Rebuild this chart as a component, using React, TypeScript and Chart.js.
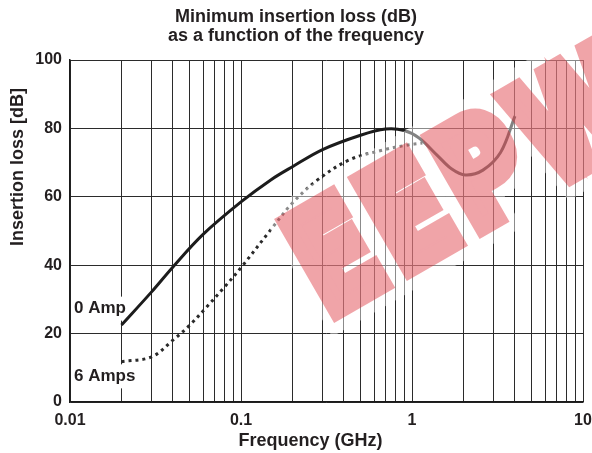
import { useEffect, useRef } from "react";
import { Chart, registerables } from "chart.js";

Chart.register(...registerables);

// ---- data ----
const seriesNames = ["0 Amp", "6 Amps"];
const freq0Amp = [0.02, 0.03, 0.04, 0.06, 0.1, 0.15, 0.2, 0.3, 0.5, 0.7, 0.9, 1.1, 1.4, 1.7, 2.05, 2.6, 3.3, 4.0];
const loss0Amp = [22.5, 32.2, 39.5, 49, 58.5, 65, 68.8, 73.8, 78, 79.8, 79.4, 77.2, 72.2, 68.2, 66.4, 67.8, 73, 83.6];
const freq6Amps = [0.02, 0.03, 0.04, 0.05, 0.063, 0.08, 0.1, 0.15, 0.2, 0.28, 0.43, 0.68, 0.93, 1.15];
const loss6Amps = [11.8, 13.2, 18.1, 22.4, 27.8, 33.6, 39.3, 50.5, 58.2, 64.9, 70.8, 73.7, 75.1, 75.7];
const xDecades = [0.01, 0.1, 1];
const xMultipliers = [1, 2, 3, 4, 5, 6, 7, 8, 9];
const xTickLabels = ["0.01", "0.1", "1", "10"];
const xTickValues = [0.01, 0.1, 1, 10];
const labelValues = [27.3, 7.5]; // y values where the series labels sit
const titleLines = ["Minimum insertion loss (dB)", "as a function of the frequency"];
const xTitle = "Frequency (GHz)";
const yTitle = "Insertion loss [dB]";
const watermarkLetters = ["E", "E", "P", "W"];

const FONT = "'Liberation Sans', Arial, Helvetica, sans-serif";
const INK = "#231f20";

function drawWatermark(ctx: CanvasRenderingContext2D, w: number, h: number) {
  const make = (color: string, stroke: number) => {
    const off = document.createElement("canvas");
    off.width = w;
    off.height = h;
    const o = off.getContext("2d")!;
    o.translate(335, 312);
    o.rotate(-Math.PI / 6);
    o.font = `bold 140px 'DejaVu Sans', sans-serif`;
    o.textBaseline = "alphabetic";
    o.textAlign = "left";
    o.lineJoin = "miter";
    o.fillStyle = color;
    o.strokeStyle = color;
    o.lineWidth = stroke;
    const advances = [0, 84, 168, 258];
    watermarkLetters.forEach((ch, i) => {
      o.save();
      o.translate(advances[i], 0);
      o.scale(0.78, 1);
      o.fillText(ch, -12, 0);
      o.strokeText(ch, -12, 0);
      o.restore();
    });
    return off;
  };
  const halo = make("#ffffff", 40);
  const red = make("rgb(220,40,50)", 18);
  ctx.save();
  ctx.globalAlpha = 0.45;
  ctx.drawImage(halo, 0, 0);
  ctx.globalAlpha = 0.42;
  ctx.drawImage(red, 0, 0);
  ctx.restore();
}

export default function App() {
  const ref = useRef<HTMLCanvasElement | null>(null);

  useEffect(() => {
    if (!ref.current) return;
    const gridValues: number[] = [];
    xDecades.forEach((d) => xMultipliers.forEach((m) => gridValues.push(+(d * m).toPrecision(3))));
    gridValues.push(10);

    const labelsPlugin = {
      id: "seriesLabels",
      beforeDatasetsDraw(chart: any) {
        const { ctx, chartArea, scales } = chart;
        ctx.save();
        ctx.font = `bold 17px ${FONT}`;
        ctx.textBaseline = "middle";
        ctx.textAlign = "left";
        seriesNames.forEach((name, i) => {
          const y = scales.y.getPixelForValue(labelValues[i]);
          const x = chartArea.left + 4;
          const w = ctx.measureText(name).width;
          ctx.fillStyle = "#ffffff";
          ctx.fillRect(x - 2, y - 12, w + 4, 24);
          ctx.fillStyle = INK;
          ctx.fillText(name, x, y);
        });
        ctx.restore();
      },
      afterDraw(chart: any) {
        const { ctx, chartArea } = chart;
        ctx.save();
        ctx.fillStyle = INK;
        ctx.font = `bold 18px ${FONT}`;
        ctx.textAlign = "center";
        ctx.textBaseline = "middle";
        ctx.fillText(xTitle, (chartArea.left + chartArea.right) / 2 - 16, 441);
        ctx.translate(18, 167);
        ctx.rotate(-Math.PI / 2);
        ctx.fillText(yTitle, 0, 0);
        ctx.restore();
        drawWatermark(ctx, chart.width, chart.height);
      },
    };

    const chart = new Chart(ref.current, {
      type: "line",
      data: {
        datasets: [
          {
            label: seriesNames[1],
            data: freq6Amps.map((f, i) => ({ x: f, y: loss6Amps[i] })),
            borderColor: "#2a2a2a",
            borderWidth: 3,
            borderDash: [3, 4],
            pointRadius: 0,
            tension: 0.35,
            fill: false,
          },
          {
            label: seriesNames[0],
            data: freq0Amp.map((f, i) => ({ x: f, y: loss0Amp[i] })),
            borderColor: "#1c1c1c",
            borderWidth: 3,
            pointRadius: 0,
            tension: 0.35,
            fill: false,
          },
        ],
      },
      options: {
        animation: false,
        responsive: true,
        maintainAspectRatio: false,
        layout: { padding: 0 },
        plugins: {
          legend: { display: false },
          tooltip: { enabled: false },
          title: {
            display: true,
            text: titleLines,
            color: INK,
            font: { family: FONT, size: 18, weight: "bold", lineHeight: 1.05 },
            padding: { top: 7.5, bottom: 14.7 },
          },
        },
        scales: {
          x: {
            type: "logarithmic",
            min: 0.01,
            max: 10,
            afterFit: (scale: any) => {
              scale.height = 51;
              scale.paddingRight = 9;
              scale.paddingLeft = 0;
            },
            afterBuildTicks: (scale: any) => {
              scale.ticks = gridValues.map((value) => ({ value }));
            },
            grid: { color: "#2b2b2b", lineWidth: 1, drawTicks: false },
            border: { display: true, color: "#1a1a1a", width: 1.5 },
            ticks: {
              autoSkip: false,
              maxRotation: 0,
              padding: 9,
              color: INK,
              font: { family: FONT, size: 16, weight: "bold" },
              callback: (value: any) => {
                const idx = xTickValues.findIndex((v) => Math.abs(v - Number(value)) < 1e-9);
                return idx >= 0 ? xTickLabels[idx] : "";
              },
            },
          },
          y: {
            type: "linear",
            min: 0,
            max: 100,
            afterFit: (scale: any) => {
              scale.width = 70;
            },
            grid: { color: "#2b2b2b", lineWidth: 1, drawTicks: false },
            border: { display: true, color: "#1a1a1a", width: 1.5 },
            ticks: {
              stepSize: 20,
              padding: 8,
              color: INK,
              font: { family: FONT, size: 16, weight: "bold" },
            },
          },
        },
      },
      plugins: [labelsPlugin],
    } as any);

    return () => chart.destroy();
  }, []);

  return (
    <div style={{ position: "absolute", left: 0, top: 0, width: 592, height: 453, background: "#fff" }}>
      <canvas ref={ref} />
    </div>
  );
}
